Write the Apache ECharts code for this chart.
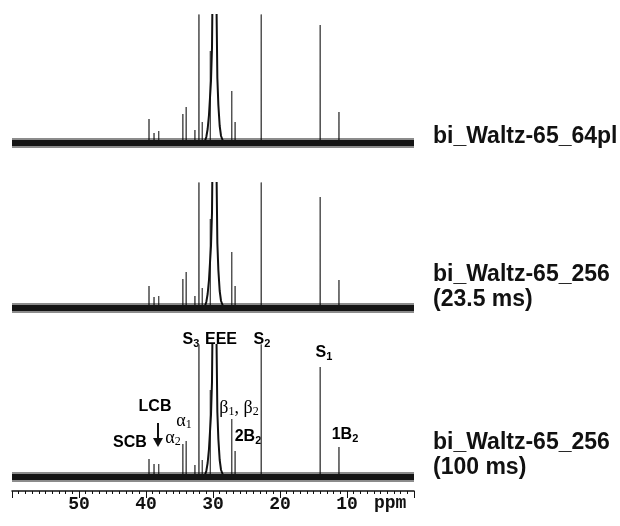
<!DOCTYPE html>
<html>
<head>
<meta charset="utf-8">
<script src="https://cdn.jsdelivr.net/npm/echarts@6/dist/echarts.min.js"></script>
<style>
  html, body { margin: 0; background: #fff; }
  #main { width: 620px; height: 526px; }
</style>
</head>
<body>
<div id="main"></div>
<script>
// peak positions (ppm) and heights for each spectrum (px-like units, 200 = off scale)
const peakPpm = [39.55, 38.8, 38.1, 34.5, 34.0, 32.7, 32.1, 31.6, 30.4, 27.2, 26.7, 22.8, 14.0, 11.2]
const heightsTop = [24, 10, 12, 29, 36, 13, 200, 21, 92, 52, 21, 200, 118, 31]
const heightsMid = [22, 11, 12, 29, 36, 12, 200, 20, 89, 56, 22, 200, 111, 28]
const heightsBot = [18, 13, 13, 33, 36, 12, 200, 17, 87, 58, 26, 200, 110, 30]

// broad EEE (main chain) profile, same shape in all three
const eeePpm = [31.3, 31.0, 30.8, 30.6, 30.45, 30.3, 30.15, 30.0, 29.95, 29.85, 29.7, 29.6, 29.5, 29.35, 29.2, 29.0, 28.8, 28.4]
const eeeVal = [0, 6, 14, 28, 45, 62, 95, 200, 200, 150, 200, 200, 150, 65, 38, 17, 7, 0]

const spectra = [heightsTop, heightsMid, heightsBot]
const yRanges = [[-12, 128], [-12, 125], [-14, 132]]
const grids = [
  { left: 12, right: 206, top: 15, height: 140 },
  { left: 12, right: 206, top: 183, height: 137 },
  { left: 12, right: 206, top: 345, height: 146 }
]

function peakLine (heights) {
  const pts = []
  peakPpm.forEach((p, i) => {
    pts.push([p + 0.03, 0], [p, heights[i]], [p - 0.03, 0])
  })
  return pts
}

const xAxis = grids.map((g, i) => ({
  type: 'value',
  gridIndex: i,
  inverse: true,
  min: 0,
  max: 60,
  interval: 10,
  show: i === 2,
  axisLine: { show: true, onZero: false, lineStyle: { color: '#111', width: 1.5 } },
  axisTick: { show: true, length: 7, lineStyle: { color: '#111', width: 1 } },
  minorTick: { show: true, splitNumber: 10, length: 3, lineStyle: { color: '#111', width: 1 } },
  splitLine: { show: false },
  axisLabel: {
    margin: 4,
    fontFamily: 'Liberation Mono',
    fontWeight: 'bold',
    fontSize: 18,
    color: '#111',
    formatter: v => (v > 0 && v < 60) ? String(v) : ''
  }
}))

const yAxis = grids.map((g, i) => ({
  type: 'value',
  gridIndex: i,
  min: yRanges[i][0],
  max: yRanges[i][1],
  show: false
}))

const series = []
spectra.forEach((h, i) => {
  series.push({
    type: 'line', xAxisIndex: i, yAxisIndex: i,
    data: peakLine(h),
    symbol: 'none', silent: true,
    lineStyle: { color: '#4a4a4a', width: 1 }
  })
  series.push({
    type: 'line', xAxisIndex: i, yAxisIndex: i,
    data: eeePpm.map((p, k) => [p, eeeVal[k]]),
    symbol: 'none', silent: true,
    lineStyle: { color: '#111', width: 2 }
  })
  // noise band: soft outer edge + dark core
  series.push({
    type: 'line', xAxisIndex: i, yAxisIndex: i,
    data: [[60, 0], [0, 0]],
    symbol: 'none', silent: true,
    lineStyle: { color: 'rgba(0,0,0,0.45)', width: 10 }
  })
  series.push({
    type: 'line', xAxisIndex: i, yAxisIndex: i,
    data: [[60, 0], [0, 0]],
    symbol: 'none', silent: true,
    lineStyle: { color: '#151515', width: 6 }
  })
})

const rich = {
  b: { fontFamily: 'Liberation Sans', fontWeight: 'bold', fontSize: 16, color: '#111' },
  bs: { fontFamily: 'Liberation Sans', fontWeight: 'bold', fontSize: 11, color: '#111', padding: [8, 0, 0, 0] },
  g: { fontFamily: 'Liberation Serif', fontSize: 18, color: '#111' },
  gs: { fontFamily: 'Liberation Serif', fontSize: 12, color: '#111', padding: [8, 0, 0, 0] }
}
function label (x, y, text) {
  return {
    type: 'text', x: x, y: y,
    style: { text: text, rich: rich, align: 'center', verticalAlign: 'middle' }
  }
}
function sideLabel (x, y, text) {
  return {
    type: 'text', x: x, y: y,
    style: { text: text, fontFamily: 'Liberation Sans', fontWeight: 'bold', fontSize: 23, fill: '#111', verticalAlign: 'middle' }
  }
}

const graphic = [
  sideLabel(433, 137, 'bi_Waltz-65_64pl'),
  sideLabel(433, 275, 'bi_Waltz-65_256'),
  sideLabel(433, 300, '(23.5 ms)'),
  sideLabel(433, 443, 'bi_Waltz-65_256'),
  sideLabel(433, 468, '(100 ms)'),
  label(191, 340, '{b|S}{bs|3}'),
  label(221, 340, '{b|EEE}'),
  label(262, 340, '{b|S}{bs|2}'),
  label(324, 353, '{b|S}{bs|1}'),
  label(155, 407, '{b|LCB}'),
  label(130, 443, '{b|SCB}'),
  label(173, 438, '{g|α}{gs|2}'),
  label(184, 421, '{g|α}{gs|1}'),
  label(239, 408, '{g|β}{gs|1}{g|, β}{gs|2}'),
  label(248, 437, '{b|2B}{bs|2}'),
  label(345, 435, '{b|1B}{bs|2}'),
  {
    type: 'line',
    shape: { x1: 158, y1: 423, x2: 158, y2: 440 },
    style: { stroke: '#111', lineWidth: 2 }
  },
  {
    type: 'polygon',
    shape: { points: [[153, 438], [163, 438], [158, 447]] },
    style: { fill: '#111' }
  },
  {
    type: 'text', x: 374, y: 503,
    style: { text: 'ppm', fontFamily: 'Liberation Mono', fontWeight: 'bold', fontSize: 18, fill: '#111', verticalAlign: 'middle' }
  }
]

const chart = echarts.init(document.getElementById('main'))
chart.setOption({
  animation: false,
  grid: grids,
  xAxis: xAxis,
  yAxis: yAxis,
  series: series,
  graphic: graphic
})
</script>
</body>
</html>
